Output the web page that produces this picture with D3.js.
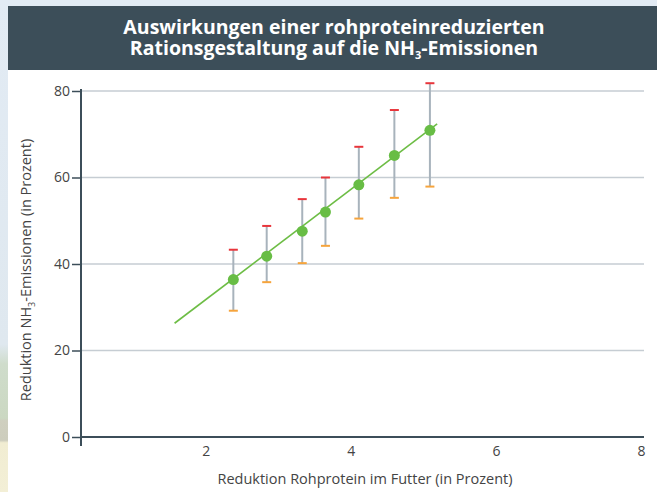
<!DOCTYPE html>
<html>
<head>
<meta charset="utf-8">
<script src="https://cdn.jsdelivr.net/npm/d3@7"></script>
<style>
  html, body { margin: 0; padding: 0; background: #e2ebf4; }
  svg { display: block; }
</style>
</head>
<body>
<svg id="chart" width="657" height="492"></svg>
<script>
// ---- data ----
const xValues = [2.38, 2.84, 3.33, 3.65, 4.11, 4.60, 5.09];
const meanValues = [36.4, 41.8, 47.6, 52.0, 58.3, 65.1, 70.9];
const upperValues = [43.3, 48.8, 55.0, 60.0, 67.1, 75.6, 81.8];
const lowerValues = [29.2, 35.8, 40.2, 44.2, 50.5, 55.3, 57.9];
const trendX = [1.57, 5.19];
const trendY = [26.3, 72.4];
const yTicks = [0, 20, 40, 60, 80];
const xTicks = [2, 4, 6, 8];
const titleLines = ["Auswirkungen einer rohproteinreduzierten", "Rationsgestaltung auf die NH", "3", "-Emissionen"];
const xTitle = "Reduktion Rohprotein im Futter (in Prozent)";
const yTitleParts = ["Reduktion NH", "3", "-Emissionen (in Prozent)"];

const font = "'Open Sans', 'Noto Sans', sans-serif";
const svg = d3.select("#chart");

// background pieces
const defs = svg.append("defs");
const lg = defs.append("linearGradient").attr("id", "land").attr("x1", 0).attr("y1", 0).attr("x2", 0).attr("y2", 1);
[[0, "#e2ebf4"], [0.70, "#dfe8ef"], [0.74, "#cfdccb"], [0.85, "#cbd8c2"], [0.855, "#cfcfbf"], [0.895, "#cdcdbd"], [0.90, "#f1edd2"], [1, "#f3efd6"]]
  .forEach(([o, c]) => lg.append("stop").attr("offset", o).attr("stop-color", c));
svg.append("rect").attr("x", 0).attr("y", 0).attr("width", 8).attr("height", 492).attr("fill", "url(#land)");
svg.append("rect").attr("x", 8).attr("y", 70).attr("width", 649).attr("height", 422).attr("fill", "#ffffff");
svg.append("rect").attr("x", 8).attr("y", 6).attr("width", 649).attr("height", 64).attr("fill", "#3c4e59");

// title (one text element, two lines)
const title = svg.append("text").attr("text-anchor", "middle")
  .attr("fill", "#fff").attr("font-family", font).attr("font-weight", 700).attr("font-size", 19.5);
title.append("tspan").attr("x", 334).attr("y", 34).text(titleLines[0]);
const l2 = title.append("tspan").attr("x", 334).attr("y", 55);
l2.append("tspan").text(titleLines[1]);
l2.append("tspan").attr("font-size", 11).attr("dy", 4).text(titleLines[2]);
l2.append("tspan").attr("dy", -4).text(titleLines[3]);

// scales
const x = d3.scaleLinear().domain([0.28, 8]).range([81, 641]);
const y = d3.scaleLinear().domain([0, 80]).range([437, 91]);

// gridlines
svg.append("g").selectAll("line").data(yTicks.filter(d => d > 0)).join("line")
  .attr("x1", 81).attr("x2", 644).attr("y1", d => y(d)).attr("y2", d => y(d))
  .attr("stroke", "#c6cdd3").attr("stroke-width", 1.5);

// y axis
const yAxis = svg.append("g").attr("transform", "translate(81,0)")
  .call(d3.axisLeft(y).tickValues(yTicks).tickSize(9).tickPadding(2).tickFormat(d3.format("d")));
yAxis.select(".domain").remove();
yAxis.selectAll(".tick line").attr("stroke", "#3c4e59").attr("stroke-width", 1.5);
yAxis.selectAll(".tick text").attr("fill", "#444").attr("font-family", font).attr("font-size", 14);

// x axis
const xAxis = svg.append("g").attr("transform", `translate(0,${y(0)})`)
  .call(d3.axisBottom(x).tickValues(xTicks).tickSize(0).tickPadding(9));
xAxis.select(".domain").remove();
xAxis.selectAll(".tick text").attr("fill", "#444").attr("font-family", font).attr("font-size", 14);

svg.append("line").attr("x1", 81).attr("x2", 644).attr("y1", y(0)).attr("y2", y(0))
  .attr("stroke", "#3c4e59").attr("stroke-width", 2);
svg.append("line").attr("x1", 81).attr("x2", 81).attr("y1", y(80) - 2).attr("y2", y(0) + 9)
  .attr("stroke", "#3c4e59").attr("stroke-width", 2);

// axis titles
svg.append("text").attr("x", 365).attr("y", 484).attr("text-anchor", "middle")
  .attr("fill", "#444").attr("font-family", font).attr("font-size", 14.5).text(xTitle);
const yt = svg.append("text").attr("transform", "translate(31,270) rotate(-90)").attr("text-anchor", "middle")
  .attr("fill", "#444").attr("font-family", font).attr("font-size", 14.5);
yt.append("tspan").text(yTitleParts[0]);
yt.append("tspan").attr("font-size", 9).attr("dy", 4).text(yTitleParts[1]);
yt.append("tspan").attr("dy", -4).text(yTitleParts[2]);

// data
const data = xValues.map((v, i) => ({ x: v, m: meanValues[i], hi: upperValues[i], lo: lowerValues[i] }));

const eb = svg.append("g");
eb.selectAll("line.stem").data(data).join("line").attr("class", "stem")
  .attr("x1", d => x(d.x)).attr("x2", d => x(d.x)).attr("y1", d => y(d.hi)).attr("y2", d => y(d.lo))
  .attr("stroke", "#a8b3bc").attr("stroke-width", 2);
eb.selectAll("line.hi").data(data).join("line").attr("class", "hi")
  .attr("x1", d => x(d.x) - 4.5).attr("x2", d => x(d.x) + 4.5).attr("y1", d => y(d.hi)).attr("y2", d => y(d.hi))
  .attr("stroke", "#e8353b").attr("stroke-width", 2);
eb.selectAll("line.lo").data(data).join("line").attr("class", "lo")
  .attr("x1", d => x(d.x) - 4.5).attr("x2", d => x(d.x) + 4.5).attr("y1", d => y(d.lo)).attr("y2", d => y(d.lo))
  .attr("stroke", "#f6a43c").attr("stroke-width", 2);

svg.append("path").datum(trendX.map((v, i) => [v, trendY[i]]))
  .attr("d", d3.line().x(d => x(d[0])).y(d => y(d[1])))
  .attr("stroke", "#6dbd45").attr("stroke-width", 1.6).attr("fill", "none");

svg.append("g").selectAll("circle").data(data).join("circle")
  .attr("cx", d => x(d.x)).attr("cy", d => y(d.m)).attr("r", 5.5).attr("fill", "#68bd45");
</script>
</body>
</html>
